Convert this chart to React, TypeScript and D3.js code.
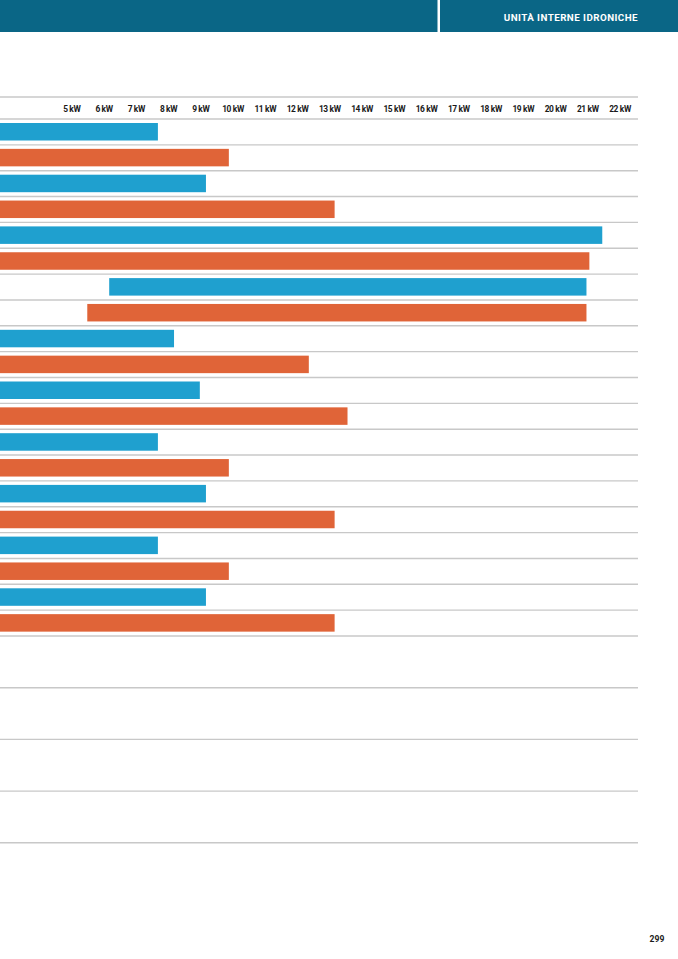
import React from "react";
import * as d3 from "d3";

const tickLabels = [5, 6, 7, 8, 9, 10, 11, 12, 13, 14, 15, 16, 17, 18, 19, 20, 21, 22];
const seriesType = ["blue", "orange", "blue", "orange", "blue", "orange", "blue", "orange", "blue", "orange",
  "blue", "orange", "blue", "orange", "blue", "orange", "blue", "orange", "blue", "orange"];
const barStart: (number | null)[] = [null, null, null, null, null, null, 6.16, 5.48, null, null,
  null, null, null, null, null, null, null, null, null, null];
const barEnd = [7.67, 9.87, 9.16, 13.15, 21.45, 21.05, 20.96, 20.96, 8.17, 12.35,
  8.97, 13.55, 7.67, 9.87, 9.16, 13.15, 7.67, 9.87, 9.16, 13.15];
const extraRowLines = [22, 24, 26, 28];
const headerTitle = "UNITÀ INTERNE IDRONICHE";
const pageNumber = "299";

const COLORS: Record<string, string> = { blue: "#1fa0cf", orange: "#e06438" };

export default function App() {
  const W = 678, H = 959;
  const x = d3.scaleLinear().domain([5, 22]).range([71.8, 620]);
  const rowTop = d3.scaleLinear().domain([0, 20]).range([119, 636]);
  const lineRight = 638;
  const barH = 17.5;
  const font = "Roboto, 'DejaVu Sans', sans-serif";
  const rowLines = d3.range(0, 21).concat(extraRowLines);
  return (
    <svg width={W} height={H} style={{ position: "absolute", left: 0, top: 0, background: "#fff" }}>
      <rect x={0} y={0} width={W} height={H} fill="#fff" />
      {/* header */}
      <rect x={0} y={0} width={W} height={32} fill="#0a6686" />
      <rect x={437.5} y={0} width={2.5} height={32} fill="#ffffff" />
      <text x={638} y={21} textAnchor="end" fill="#fff" fontFamily={font} fontWeight={700} fontSize={9.8} letterSpacing={0.45}>
        {headerTitle}
      </text>
      {/* axis top line */}
      <line x1={0} x2={lineRight} y1={97} y2={97} stroke="#c8c8c8" strokeWidth={1.3} />
      {tickLabels.map((t) => (
        <text key={t} x={x(t)} y={111.5} textAnchor="middle" fontFamily={font} fontWeight={700} fontSize={8.4}
          letterSpacing={-0.35} fill="#1a1a1a">
          {`${t} kW`}
        </text>
      ))}
      {/* row lines */}
      {rowLines.map((i) => (
        <line key={i} x1={0} x2={lineRight} y1={rowTop(i)} y2={rowTop(i)} stroke="#c8c8c8" strokeWidth={1.4} />
      ))}
      {/* bars */}
      {barEnd.map((v, i) => {
        const s = barStart[i];
        const x0 = s == null ? 0 : x(s);
        return (
          <rect key={i} x={x0} y={rowTop(i) + 4} width={x(v) - x0} height={barH} fill={COLORS[seriesType[i]]} />
        );
      })}
      <text x={657} y={942} textAnchor="middle" fontFamily={font} fontWeight={700} fontSize={8.6} fill="#1a1a1a">
        {pageNumber}
      </text>
    </svg>
  );
}
